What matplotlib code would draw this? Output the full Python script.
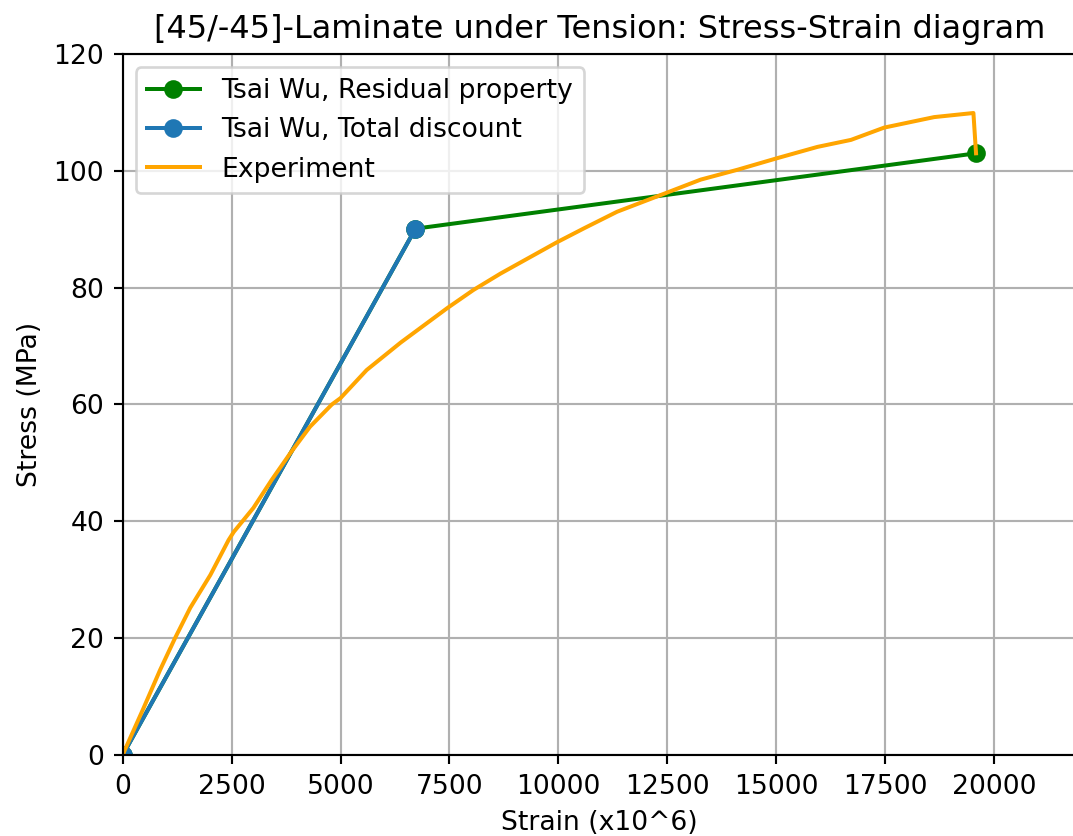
import numpy as np
import matplotlib
matplotlib.use("Agg")
import matplotlib.pyplot as plt

# Tsai-Wu predictions
strain_residual = [0, 6720, 19590]
stress_residual = [0, 90.1, 103.0]

strain_total = [0, 6720]
stress_total = [0, 90.1]

# measured curve
strain_exp = [0, 50, 470, 860, 1200, 1550, 2010, 2430, 2550, 3000, 3420,
              3850, 4300, 4800, 5000, 5600, 6380, 7450, 8050, 8670, 9950,
              10600, 11350, 12470, 13270, 14120, 15040, 15950, 16720, 17480,
              18630, 19530, 19590]
stress_exp = [0, 0.9, 7.9, 14.6, 20.0, 25.2, 30.8, 36.8, 38.2, 42.3, 47.1,
              51.7, 56.2, 60.0, 61.1, 65.9, 70.6, 76.5, 79.6, 82.4, 87.7,
              90.2, 93.0, 96.2, 98.5, 100.2, 102.2, 104.1, 105.3, 107.4,
              109.2, 109.9, 103.0]

DPI = 192
fig = plt.figure(figsize=(1073 / DPI, 836 / DPI), dpi=DPI)
ax = fig.add_axes([0.1144, 0.0969, 0.889, 0.8385])

ax.plot(strain_residual, stress_residual, marker='o', color='green',
        label='Tsai Wu, Residual property')
ax.plot(strain_total, stress_total, marker='o', color='tab:blue',
        label='Tsai Wu, Total discount')
ax.plot(strain_exp, stress_exp, color='orange', label='Experiment')

ax.set_xlim(0, 21900)
ax.set_ylim(0, 120)
ax.set_xticks(np.arange(0, 20001, 2500))
ax.set_title('[45/-45]-Laminate under Tension: Stress-Strain diagram')
ax.set_xlabel('Strain (x10^6)')
ax.set_ylabel('Stress (MPa)')
ax.grid(True)
ax.legend(loc='upper left')

fig.savefig('out.png', dpi=DPI)
